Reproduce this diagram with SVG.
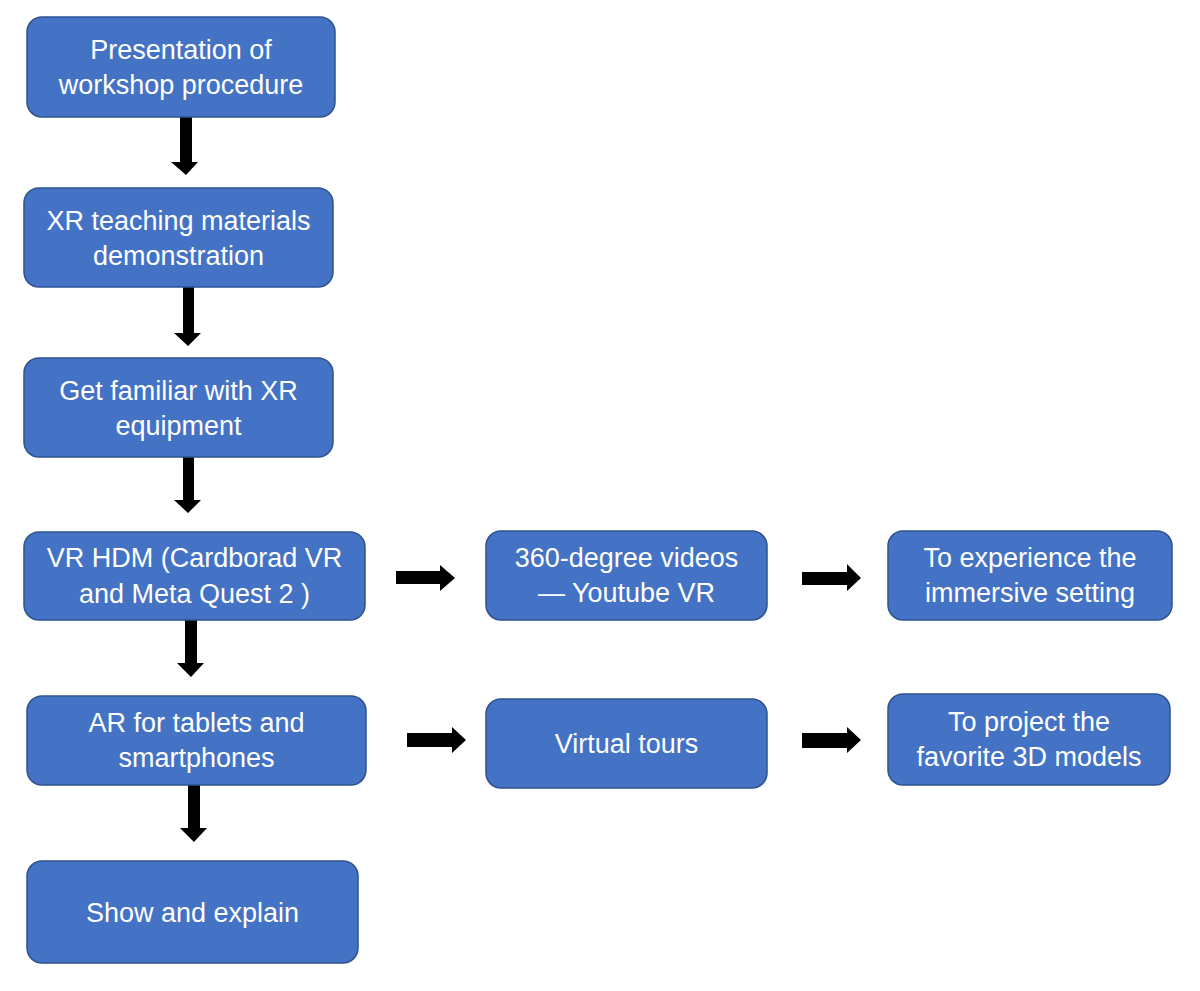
<svg xmlns="http://www.w3.org/2000/svg" width="1200" height="991" viewBox="0 0 1200 991">
<style>
.box{fill:#4472C4;stroke:#2F528F;stroke-width:1.5}
.lbl{font-family:"Liberation Sans",Arial,sans-serif;font-size:27px;fill:#FFFFFF;text-anchor:middle}
.arr{fill:#000000}
</style>
<rect width="1200" height="991" fill="#FFFFFF"/>
<g id="connectors">
<polygon class="arr" points="180,117 192,117 192,162 198,162 186,175 171,162 180,162"/>
<polygon class="arr" points="183,287 194,287 194,333 201,333 188,346 174,333 183,333"/>
<polygon class="arr" points="183,457 194,457 194,500 201,500 188,513 174,500 183,500"/>
<polygon class="arr" points="185,620 197,620 197,663 204,663 191,677 177,663 185,663"/>
<polygon class="arr" points="188,785 200,785 200,828 207,828 194,842 180,828 188,828"/>
<polygon class="arr" points="396,571 440,571 440,565 455,578 440,591 440,584 396,584"/>
<polygon class="arr" points="802,572 847,572 847,564 861,578 847,591 847,585 802,585"/>
<polygon class="arr" points="407,733 452,733 452,727 466,740 452,753 452,747 407,747"/>
<polygon class="arr" points="802,733 847,733 847,727 861,740 847,753 847,748 802,748"/>
</g>
<g id="n1"><rect class="box" x="27" y="17" width="308" height="100" rx="15"/>
<text class="lbl" x="181" y="59">Presentation of</text><text class="lbl" x="181" y="94">workshop procedure</text></g>
<g id="n2"><rect class="box" x="24" y="188" width="309" height="99" rx="15"/>
<text class="lbl" x="178.5" y="229.5">XR teaching materials</text><text class="lbl" x="178.5" y="264.5">demonstration</text></g>
<g id="n3"><rect class="box" x="24" y="358" width="309" height="99" rx="15"/>
<text class="lbl" x="178.5" y="399.5">Get familiar with XR</text><text class="lbl" x="178.5" y="434.5">equipment</text></g>
<g id="n4"><rect class="box" x="24" y="532" width="341" height="88" rx="15"/>
<text class="lbl" x="194.5" y="567">VR HDM (Cardborad VR</text><text class="lbl" x="194.5" y="603">and Meta Quest 2 )</text></g>
<g id="n5"><rect class="box" x="27" y="696" width="339" height="89" rx="15"/>
<text class="lbl" x="196.5" y="732">AR for tablets and</text><text class="lbl" x="196.5" y="767">smartphones</text></g>
<g id="n6"><rect class="box" x="27" y="861" width="331" height="102" rx="15"/>
<text class="lbl" x="192.5" y="922">Show and explain</text></g>
<g id="n7"><rect class="box" x="486" y="531" width="281" height="89" rx="15"/>
<text class="lbl" x="626.5" y="567">360-degree videos</text><text class="lbl" x="626.5" y="602">— Youtube VR</text></g>
<g id="n8"><rect class="box" x="486" y="699" width="281" height="89" rx="15"/>
<text class="lbl" x="626.5" y="753">Virtual tours</text></g>
<g id="n9"><rect class="box" x="888" y="531" width="284" height="89" rx="15"/>
<text class="lbl" x="1030" y="567">To experience the</text><text class="lbl" x="1030" y="602">immersive setting</text></g>
<g id="n10"><rect class="box" x="888" y="694" width="282" height="91" rx="15"/>
<text class="lbl" x="1029" y="731">To project the</text><text class="lbl" x="1029" y="766">favorite 3D models</text></g>
</svg>
